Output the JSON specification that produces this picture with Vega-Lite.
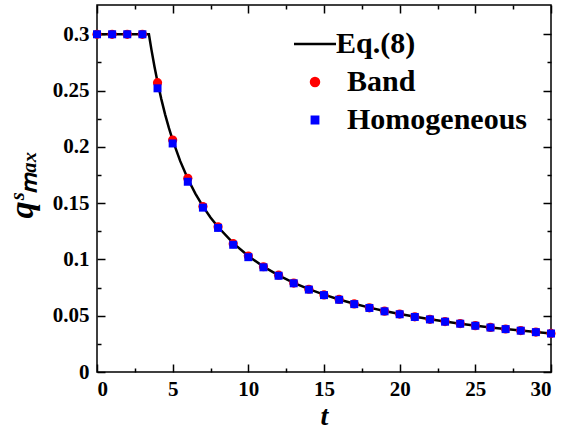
{
  "$schema": "https://vega.github.io/schema/vega-lite/v6.json",
  "width": 454,
  "height": 367,
  "autosize": {"type": "none"},
  "padding": {"left": 97, "top": 5, "right": 13, "bottom": 58},
  "background": "white",
  "config": {
    "view": {"stroke": "#000000", "strokeWidth": 1.5},
    "axis": {
      "grid": false,
      "domain": false,
      "tickColor": "#000000",
      "tickWidth": 1.5,
      "labelColor": "#000000",
      "labelFont": "Liberation Serif",
      "labelFontWeight": "bold",
      "labelFontSize": 21,
      "titleColor": "#000000",
      "titleFont": "Liberation Serif",
      "titleFontWeight": "bold",
      "titleFontStyle": "italic"
    }
  },
  "datasets": {
    "curve": [
      {"t": 0, "q": 0.3, "series": "Eq.(8)"},
      {"t": 3.43, "q": 0.3, "series": "Eq.(8)"},
      {"t": 3.6, "q": 0.2861, "series": "Eq.(8)"},
      {"t": 3.8, "q": 0.2711, "series": "Eq.(8)"},
      {"t": 4, "q": 0.2575, "series": "Eq.(8)"},
      {"t": 4.25, "q": 0.2424, "series": "Eq.(8)"},
      {"t": 4.5, "q": 0.2289, "series": "Eq.(8)"},
      {"t": 4.75, "q": 0.2168, "series": "Eq.(8)"},
      {"t": 5, "q": 0.206, "series": "Eq.(8)"},
      {"t": 5.5, "q": 0.1873, "series": "Eq.(8)"},
      {"t": 6, "q": 0.1717, "series": "Eq.(8)"},
      {"t": 6.5, "q": 0.1585, "series": "Eq.(8)"},
      {"t": 7, "q": 0.1471, "series": "Eq.(8)"},
      {"t": 7.5, "q": 0.1373, "series": "Eq.(8)"},
      {"t": 8, "q": 0.1288, "series": "Eq.(8)"},
      {"t": 9, "q": 0.1144, "series": "Eq.(8)"},
      {"t": 10, "q": 0.103, "series": "Eq.(8)"},
      {"t": 11, "q": 0.0936, "series": "Eq.(8)"},
      {"t": 12, "q": 0.0858, "series": "Eq.(8)"},
      {"t": 13, "q": 0.0792, "series": "Eq.(8)"},
      {"t": 14, "q": 0.0736, "series": "Eq.(8)"},
      {"t": 15, "q": 0.0687, "series": "Eq.(8)"},
      {"t": 16, "q": 0.0644, "series": "Eq.(8)"},
      {"t": 17, "q": 0.0606, "series": "Eq.(8)"},
      {"t": 18, "q": 0.0572, "series": "Eq.(8)"},
      {"t": 19, "q": 0.0542, "series": "Eq.(8)"},
      {"t": 20, "q": 0.0515, "series": "Eq.(8)"},
      {"t": 22, "q": 0.0468, "series": "Eq.(8)"},
      {"t": 24, "q": 0.0429, "series": "Eq.(8)"},
      {"t": 26, "q": 0.0396, "series": "Eq.(8)"},
      {"t": 28, "q": 0.0368, "series": "Eq.(8)"},
      {"t": 30, "q": 0.0343, "series": "Eq.(8)"}
    ],
    "band": [
      {"t": 0, "q": 0.3, "series": "Band"},
      {"t": 1, "q": 0.3, "series": "Band"},
      {"t": 2, "q": 0.3, "series": "Band"},
      {"t": 3, "q": 0.3, "series": "Band"},
      {"t": 4, "q": 0.257, "series": "Band"},
      {"t": 5, "q": 0.206, "series": "Band"},
      {"t": 6, "q": 0.172, "series": "Band"},
      {"t": 7, "q": 0.147, "series": "Band"},
      {"t": 8, "q": 0.129, "series": "Band"},
      {"t": 9, "q": 0.114, "series": "Band"},
      {"t": 10, "q": 0.103, "series": "Band"},
      {"t": 11, "q": 0.0935, "series": "Band"},
      {"t": 12, "q": 0.086, "series": "Band"},
      {"t": 13, "q": 0.079, "series": "Band"},
      {"t": 14, "q": 0.0735, "series": "Band"},
      {"t": 15, "q": 0.0685, "series": "Band"},
      {"t": 16, "q": 0.0645, "series": "Band"},
      {"t": 17, "q": 0.0605, "series": "Band"},
      {"t": 18, "q": 0.057, "series": "Band"},
      {"t": 19, "q": 0.054, "series": "Band"},
      {"t": 20, "q": 0.0515, "series": "Band"},
      {"t": 21, "q": 0.049, "series": "Band"},
      {"t": 22, "q": 0.0468, "series": "Band"},
      {"t": 23, "q": 0.0448, "series": "Band"},
      {"t": 24, "q": 0.043, "series": "Band"},
      {"t": 25, "q": 0.0412, "series": "Band"},
      {"t": 26, "q": 0.0396, "series": "Band"},
      {"t": 27, "q": 0.0382, "series": "Band"},
      {"t": 28, "q": 0.0368, "series": "Band"},
      {"t": 29, "q": 0.0355, "series": "Band"},
      {"t": 30, "q": 0.0343, "series": "Band"}
    ],
    "homog": [
      {"t": 0, "q": 0.3, "series": "Homogeneous"},
      {"t": 1, "q": 0.3, "series": "Homogeneous"},
      {"t": 2, "q": 0.3, "series": "Homogeneous"},
      {"t": 3, "q": 0.3, "series": "Homogeneous"},
      {"t": 4, "q": 0.252, "series": "Homogeneous"},
      {"t": 5, "q": 0.203, "series": "Homogeneous"},
      {"t": 6, "q": 0.169, "series": "Homogeneous"},
      {"t": 7, "q": 0.146, "series": "Homogeneous"},
      {"t": 8, "q": 0.128, "series": "Homogeneous"},
      {"t": 9, "q": 0.113, "series": "Homogeneous"},
      {"t": 10, "q": 0.102, "series": "Homogeneous"},
      {"t": 11, "q": 0.093, "series": "Homogeneous"},
      {"t": 12, "q": 0.0855, "series": "Homogeneous"},
      {"t": 13, "q": 0.0788, "series": "Homogeneous"},
      {"t": 14, "q": 0.0732, "series": "Homogeneous"},
      {"t": 15, "q": 0.0683, "series": "Homogeneous"},
      {"t": 16, "q": 0.0642, "series": "Homogeneous"},
      {"t": 17, "q": 0.0603, "series": "Homogeneous"},
      {"t": 18, "q": 0.0569, "series": "Homogeneous"},
      {"t": 19, "q": 0.0539, "series": "Homogeneous"},
      {"t": 20, "q": 0.0513, "series": "Homogeneous"},
      {"t": 21, "q": 0.0489, "series": "Homogeneous"},
      {"t": 22, "q": 0.0467, "series": "Homogeneous"},
      {"t": 23, "q": 0.0447, "series": "Homogeneous"},
      {"t": 24, "q": 0.0429, "series": "Homogeneous"},
      {"t": 25, "q": 0.0411, "series": "Homogeneous"},
      {"t": 26, "q": 0.0395, "series": "Homogeneous"},
      {"t": 27, "q": 0.0381, "series": "Homogeneous"},
      {"t": 28, "q": 0.0367, "series": "Homogeneous"},
      {"t": 29, "q": 0.0354, "series": "Homogeneous"},
      {"t": 30, "q": 0.0342, "series": "Homogeneous"}
    ]
  },
  "layer": [
    {
      "data": {"name": "curve"},
      "mark": {"type": "line", "strokeWidth": 2.5, "clip": true},
      "encoding": {
        "x": {
          "field": "t", "type": "quantitative",
          "scale": {"domain": [0, 30], "nice": false, "zero": false},
          "axis": {
            "orient": "bottom",
            "title": "t",
            "titleFontSize": 28,
            "titleX": 227,
            "titleY": 52,
            "titleAlign": "center",
            "titleBaseline": "alphabetic",
            "values": [0, 2.5, 5, 7.5, 10, 12.5, 15, 17.5, 20, 22.5, 25, 27.5, 30],
            "tickSize": {"condition": {"test": "datum.value % 5 === 0", "value": -8}, "value": -4},
            "labelPadding": 14,
            "labelExpr": "datum.value % 5 === 0 ? datum.label : ''"
          }
        },
        "y": {
          "field": "q", "type": "quantitative",
          "scale": {"domain": [0, 0.326], "nice": false, "zero": false},
          "axis": {
            "orient": "left",
            "title": "qˢₘₐₓ",
            "titleFontSize": 34,
            "titleX": -75,
            "titleY": 179,
            "titleAngle": 270,
            "titleAlign": "center",
            "titleBaseline": "middle",
            "values": [0, 0.025, 0.05, 0.075, 0.1, 0.125, 0.15, 0.175, 0.2, 0.225, 0.25, 0.275, 0.3],
            "tickSize": {"condition": {"test": "round(datum.value*1000) % 50 === 0", "value": -8}, "value": -4},
            "labelPadding": 16,
            "labelExpr": "round(datum.value*1000) % 50 === 0 ? format(datum.value, '~g') : ''"
          }
        },
        "color": {
          "field": "series", "type": "nominal",
          "scale": {"domain": ["Eq.(8)", "Band", "Homogeneous"], "range": ["#000000", "#ff0000", "#0000ff"]},
          "legend": {
            "orient": "none",
            "legendX": 203,
            "legendY": 24,
            "title": null,
            "padding": 0,
            "symbolSize": 1764,
            "rowPadding": 8,
            "labelOffset": 2,
            "labelFont": "Liberation Serif",
            "labelFontWeight": "bold",
            "labelFontSize": 30,
            "labelColor": "#000000",
            "labelLimit": 400,
            "encode": {
              "symbols": {
                "update": {
                  "shape": {"signal": "datum.value === 'Eq.(8)' ? 'stroke' : (datum.value === 'Band' ? 'circle' : 'square')"},
                  "size": {"signal": "datum.value === 'Eq.(8)' ? 1764 : (datum.value === 'Band' ? 64 : 40)"},
                  "fill": {"signal": "datum.value === 'Band' ? '#ff0000' : (datum.value === 'Homogeneous' ? '#0000ff' : 'transparent')"},
                  "stroke": {"signal": "datum.value === 'Eq.(8)' ? '#000000' : 'transparent'"},
                  "strokeWidth": {"value": 2.5},
                  "opacity": {"value": 1}
                }
              },
              "labels": {
                "update": {
                  "dx": {"signal": "datum.value === 'Eq.(8)' ? 4 : 15"}
                }
              }
            }
          }
        }
      }
    },
    {
      "layer": [
        {
          "data": {"name": "band"},
          "mark": {"type": "point", "shape": "circle", "filled": true, "opacity": 1, "size": 85}
        },
        {
          "data": {"name": "homog"},
          "mark": {"type": "point", "shape": "square", "filled": true, "opacity": 1, "size": 64}
        }
      ],
      "encoding": {
        "x": {
          "field": "t", "type": "quantitative",
          "axis": {
            "orient": "top",
            "title": null,
            "labels": false,
            "values": [0, 2.5, 5, 7.5, 10, 12.5, 15, 17.5, 20, 22.5, 25, 27.5, 30],
            "tickSize": {"condition": {"test": "datum.value % 5 === 0", "value": -8}, "value": -4}
          }
        },
        "y": {
          "field": "q", "type": "quantitative",
          "axis": {
            "orient": "right",
            "title": null,
            "labels": false,
            "values": [0, 0.025, 0.05, 0.075, 0.1, 0.125, 0.15, 0.175, 0.2, 0.225, 0.25, 0.275, 0.3],
            "tickSize": {"condition": {"test": "round(datum.value*1000) % 50 === 0", "value": -8}, "value": -4}
          }
        },
        "color": {"field": "series", "type": "nominal"}
      }
    }
  ],
  "resolve": {"axis": {"x": "independent", "y": "independent"}}
}
